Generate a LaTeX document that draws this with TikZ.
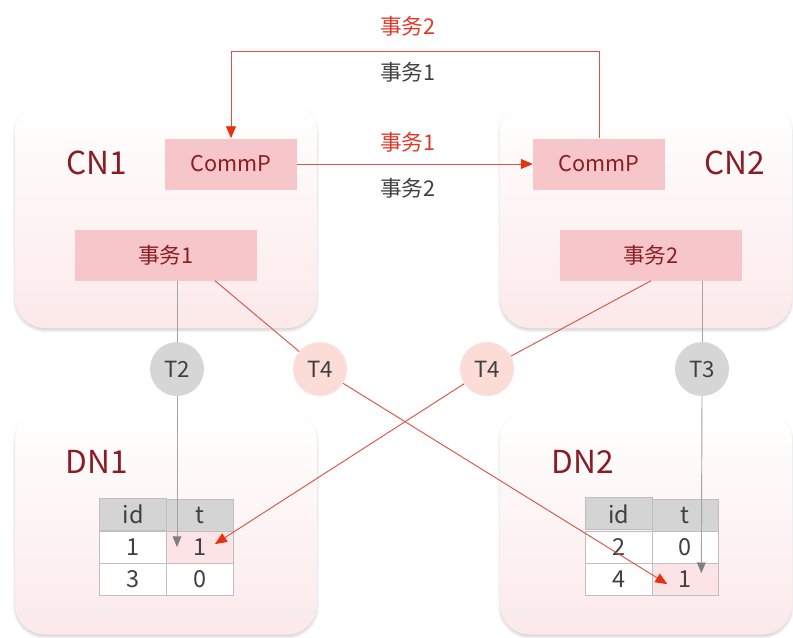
\documentclass[tikz,border=0pt]{standalone}
\usepackage{fontspec}
\setmainfont{Noto Sans CJK SC}
\usetikzlibrary{arrows.meta,positioning,matrix,shadows.blur}
\definecolor{panelpink}{HTML}{FCE9EA}
\definecolor{boxpink}{HTML}{F7C6CA}
\definecolor{darkred}{HTML}{8A1C24}
\definecolor{lblred}{HTML}{E0392B}
\definecolor{txtgray}{HTML}{404040}
\definecolor{linered}{HTML}{D9534A}
\definecolor{tipred}{HTML}{E8300C}
\definecolor{linegray}{HTML}{A3A3A3}
\definecolor{tipgray}{HTML}{7F7F7F}
\definecolor{circgray}{HTML}{D6D6D6}
\definecolor{circpink}{HTML}{FBDCD7}
\definecolor{headgray}{HTML}{D4D4D4}
\definecolor{cellline}{HTML}{BFBFBF}
\definecolor{hotcell}{HTML}{FCE4E6}
\tikzset{
  panel/.style={rounded corners=0.9cm, top color=white, bottom color=panelpink,
    blur shadow={shadow xshift=0pt, shadow yshift=-2pt, shadow opacity=18, shadow blur steps=6},
    minimum height=6.78cm},
  nodename/.style={text=darkred, font=\fontsize{27pt}{30pt}\selectfont},
  pinkbox/.style={fill=boxpink, text=darkred, minimum height=1.53cm, inner sep=0pt,
    font=\fontsize{18.5pt}{20pt}\selectfont},
  tag/.style={circle, minimum size=1.62cm, inner sep=0pt, text=txtgray,
    font=\fontsize{19pt}{20pt}\selectfont},
  arrowlbl/.style={font=\fontsize{18.5pt}{20pt}\selectfont},
  redline/.style={draw=linered, line width=0.8pt},
  redarrow/.style={redline, -{Triangle[length=0.36cm, width=0.3cm, color=tipred]}},
  grayline/.style={draw=linegray, line width=0.8pt},
  grayarrow/.style={grayline, -{Triangle[length=0.32cm, width=0.26cm, color=tipgray]}},
  hot/.style={fill=hotcell},
  tbl/.style={matrix of nodes, column sep=-0.6pt, row sep=-0.6pt,
    nodes={draw=cellline, fill=white, line width=0.6pt, minimum width=2cm, minimum height=0.96cm,
      inner sep=0pt, text=txtgray, font=\fontsize{20pt}{22pt}\selectfont},
    row 1/.style={nodes={fill=headgray}}}
}
\begin{document}
\begin{tikzpicture}[x=0.03cm, y=-0.03cm]
\useasboundingbox (0,0) rectangle (793,637);
\node[panel, minimum width=9.06cm] (cn1) at (166,215) {};
\node[panel, minimum width=8.76cm] (cn2) at (646,215) {};
\node[panel, minimum width=9.06cm, minimum height=6.75cm] (dn1) at (166,522) {};
\node[panel, minimum width=8.76cm, minimum height=6.75cm] (dn2) at (646,522) {};

\node[nodename] (cn1lbl) at (97,163) {CN1};
\node[nodename] (cn2lbl) at (735,163) {CN2};
\node[nodename] (dn1lbl) at (97,462) {DN1};
\node[nodename] (dn2lbl) at (583,462) {DN2};

\node[pinkbox, minimum width=3.96cm] (cp1) at (231,164) {CommP};
\node[pinkbox, minimum width=3.96cm] (cp2) at (599,164) {CommP};
\node[pinkbox, minimum width=5.46cm] (tx1) at (166,255) {事务1};
\node[pinkbox, minimum width=5.46cm] (tx2) at (651,255) {事务2};

\node[tag, fill=circgray] (t2) at (177,369) {T2};
\node[tag, fill=circpink] (t4a) at (320,369) {T4};
\node[tag, fill=circpink] (t4b) at (487,369) {T4};
\node[tag, fill=circgray] (t3) at (702,369) {T3};

\matrix[tbl] (tab1) at (166.5,546.5) {id & t \\ 1 & |[hot]| 1 \\ 3 & 0 \\};
\matrix[tbl] (tab2) at (652,546.5) {id & t \\ 2 & 0 \\ 4 & |[hot]| 1 \\};

\coordinate (loop) at (0,51);
\draw[redarrow] (cp2.north) |- (cp1.north |- loop) -- (cp1.north);
\draw[redarrow] (cp1.east) -- (cp2.west);
\node[arrowlbl, text=lblred] (l1) at (408,26) {事务2};
\node[arrowlbl, text=txtgray] (l2) at (408,72) {事务1};
\node[arrowlbl, text=lblred] (l3) at (408,142) {事务1};
\node[arrowlbl, text=txtgray] (l4) at (408,188) {事务2};

\draw[grayline] (tx1.south -| t2) -- (t2.north);
\draw[grayarrow] (t2.south) -- (t2 |- tab1-2-2.center);
\draw[grayline] (tx2.south -| t3) -- (t3.north);
\draw[grayarrow] (t3.south) -- ([shift={(16,-6)}]tab2-3-2.center);
\draw[redline] ([shift={(49,0)}]tx1.south) -- (t4a);
\draw[redarrow] (t4a) -- ([shift={(-18,5)}]tab2-3-2.center);
\draw[redline] (tx2.south) -- (t4b);
\draw[redarrow] (t4b) -- ([shift={(15,-3)}]tab1-2-2.center);
\end{tikzpicture}
\end{document}
